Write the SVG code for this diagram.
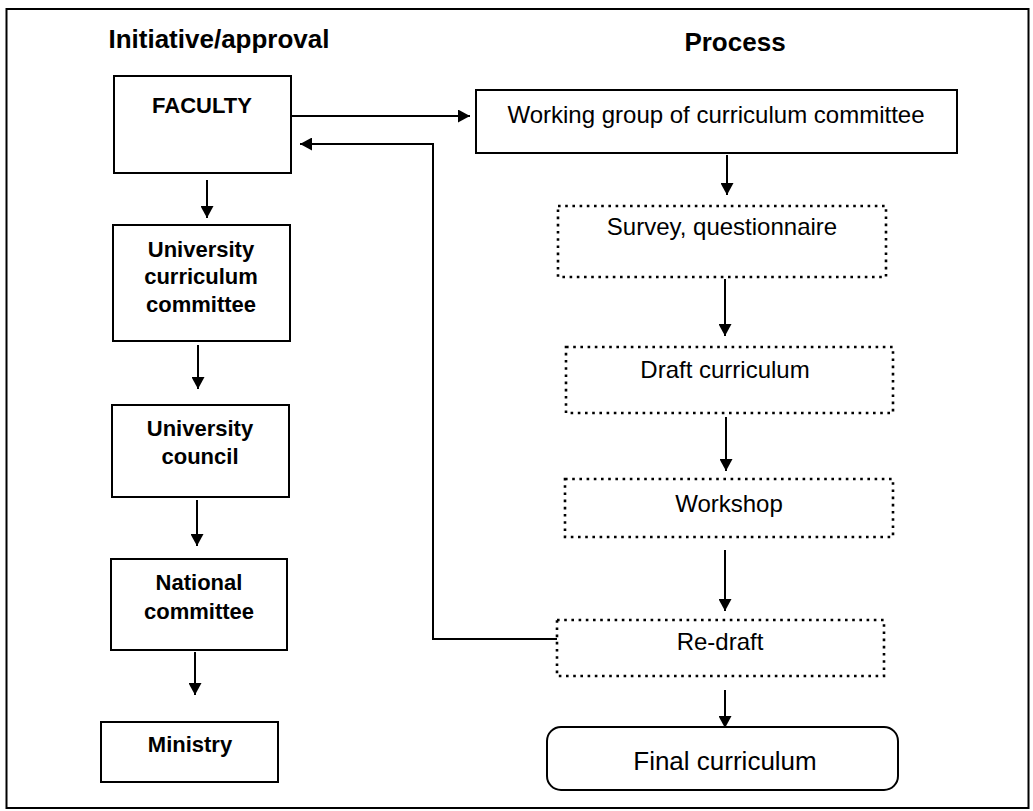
<svg xmlns="http://www.w3.org/2000/svg" width="1033" height="811" viewBox="0 0 1033 811">
  <style>
    .box { fill: #ffffff; stroke: #000000; stroke-width: 2; }
    .dot { fill: #ffffff; stroke: #000000; stroke-width: 2.6; stroke-dasharray: 2.6 4.6; }
    .lt { font-family: "Liberation Sans", Arial, sans-serif; font-size: 22px; font-weight: bold; fill: #000; text-anchor: middle; }
    .rt { font-family: "Liberation Sans", Arial, sans-serif; font-size: 24px; fill: #000; text-anchor: middle; }
    .title { font-family: "Liberation Sans", Arial, sans-serif; font-size: 26px; font-weight: bold; fill: #000; text-anchor: middle; }
    .conn { fill: none; stroke: #000000; stroke-width: 2; }
  </style>
  <defs>
    <marker id="arr" markerUnits="userSpaceOnUse" markerWidth="13" markerHeight="13" refX="12" refY="6.5" orient="auto">
      <path d="M0,0 L12,6.5 L0,13 z" fill="#000"/>
    </marker>
  </defs>
  <rect x="0" y="0" width="1033" height="811" fill="#ffffff"/>
  <rect x="6.5" y="9" width="1022" height="799" fill="none" stroke="#000" stroke-width="2"/>

  <text class="title" x="219" y="48">Initiative/approval</text>
  <text class="title" x="735" y="51">Process</text>

  <g id="faculty">
    <rect class="box" x="114" y="76" width="177" height="97"/>
    <text class="lt" x="202" y="113">FACULTY</text>
  </g>
  <g id="univ-curriculum-committee">
    <rect class="box" x="113" y="225" width="177" height="116"/>
    <text class="lt" x="201" y="257">University</text>
    <text class="lt" x="201" y="284">curriculum</text>
    <text class="lt" x="201" y="312">committee</text>
  </g>
  <g id="univ-council">
    <rect class="box" x="112" y="405" width="177" height="92"/>
    <text class="lt" x="200" y="436">University</text>
    <text class="lt" x="200" y="464">council</text>
  </g>
  <g id="national-committee">
    <rect class="box" x="111" y="559" width="176" height="91"/>
    <text class="lt" x="199" y="590">National</text>
    <text class="lt" x="199" y="619">committee</text>
  </g>
  <g id="ministry">
    <rect class="box" x="101" y="722" width="177" height="60"/>
    <text class="lt" x="190" y="752">Ministry</text>
  </g>

  <g id="working-group">
    <rect class="box" x="476" y="90" width="481" height="63"/>
    <text class="rt" x="716" y="123">Working group of curriculum committee</text>
  </g>
  <g id="survey">
    <rect class="dot" x="558" y="206" width="328" height="71"/>
    <text class="rt" x="722" y="235">Survey, questionnaire</text>
  </g>
  <g id="draft">
    <rect class="dot" x="566" y="347" width="327" height="66"/>
    <text class="rt" x="725" y="378">Draft curriculum</text>
  </g>
  <g id="workshop">
    <rect class="dot" x="565" y="479" width="328" height="58"/>
    <text class="rt" x="729" y="512">Workshop</text>
  </g>
  <g id="redraft">
    <rect class="dot" x="557" y="620" width="327" height="56"/>
    <text class="rt" x="720" y="650">Re-draft</text>
  </g>
  <g id="final">
    <rect class="box" x="547" y="727" width="351" height="63" rx="14" ry="14"/>
    <text class="rt" x="725" y="770" style="font-size:26px">Final curriculum</text>
  </g>

  <g id="connectors">
    <line class="conn" x1="207" y1="180" x2="207" y2="218" marker-end="url(#arr)"/>
    <line class="conn" x1="198" y1="345" x2="198" y2="389" marker-end="url(#arr)"/>
    <line class="conn" x1="197" y1="500" x2="197" y2="546" marker-end="url(#arr)"/>
    <line class="conn" x1="195" y1="652" x2="195" y2="695" marker-end="url(#arr)"/>
    <line class="conn" x1="291" y1="116" x2="470" y2="116" marker-end="url(#arr)"/>
    <path class="conn" d="M557,639 H433 V144 H300" marker-end="url(#arr)"/>
    <line class="conn" x1="727" y1="155" x2="727" y2="195" marker-end="url(#arr)"/>
    <line class="conn" x1="725" y1="279" x2="725" y2="336" marker-end="url(#arr)"/>
    <line class="conn" x1="726" y1="417" x2="726" y2="471" marker-end="url(#arr)"/>
    <line class="conn" x1="725" y1="550" x2="725" y2="611" marker-end="url(#arr)"/>
    <line class="conn" x1="725" y1="690" x2="725" y2="728" marker-end="url(#arr)"/>
  </g>
</svg>
